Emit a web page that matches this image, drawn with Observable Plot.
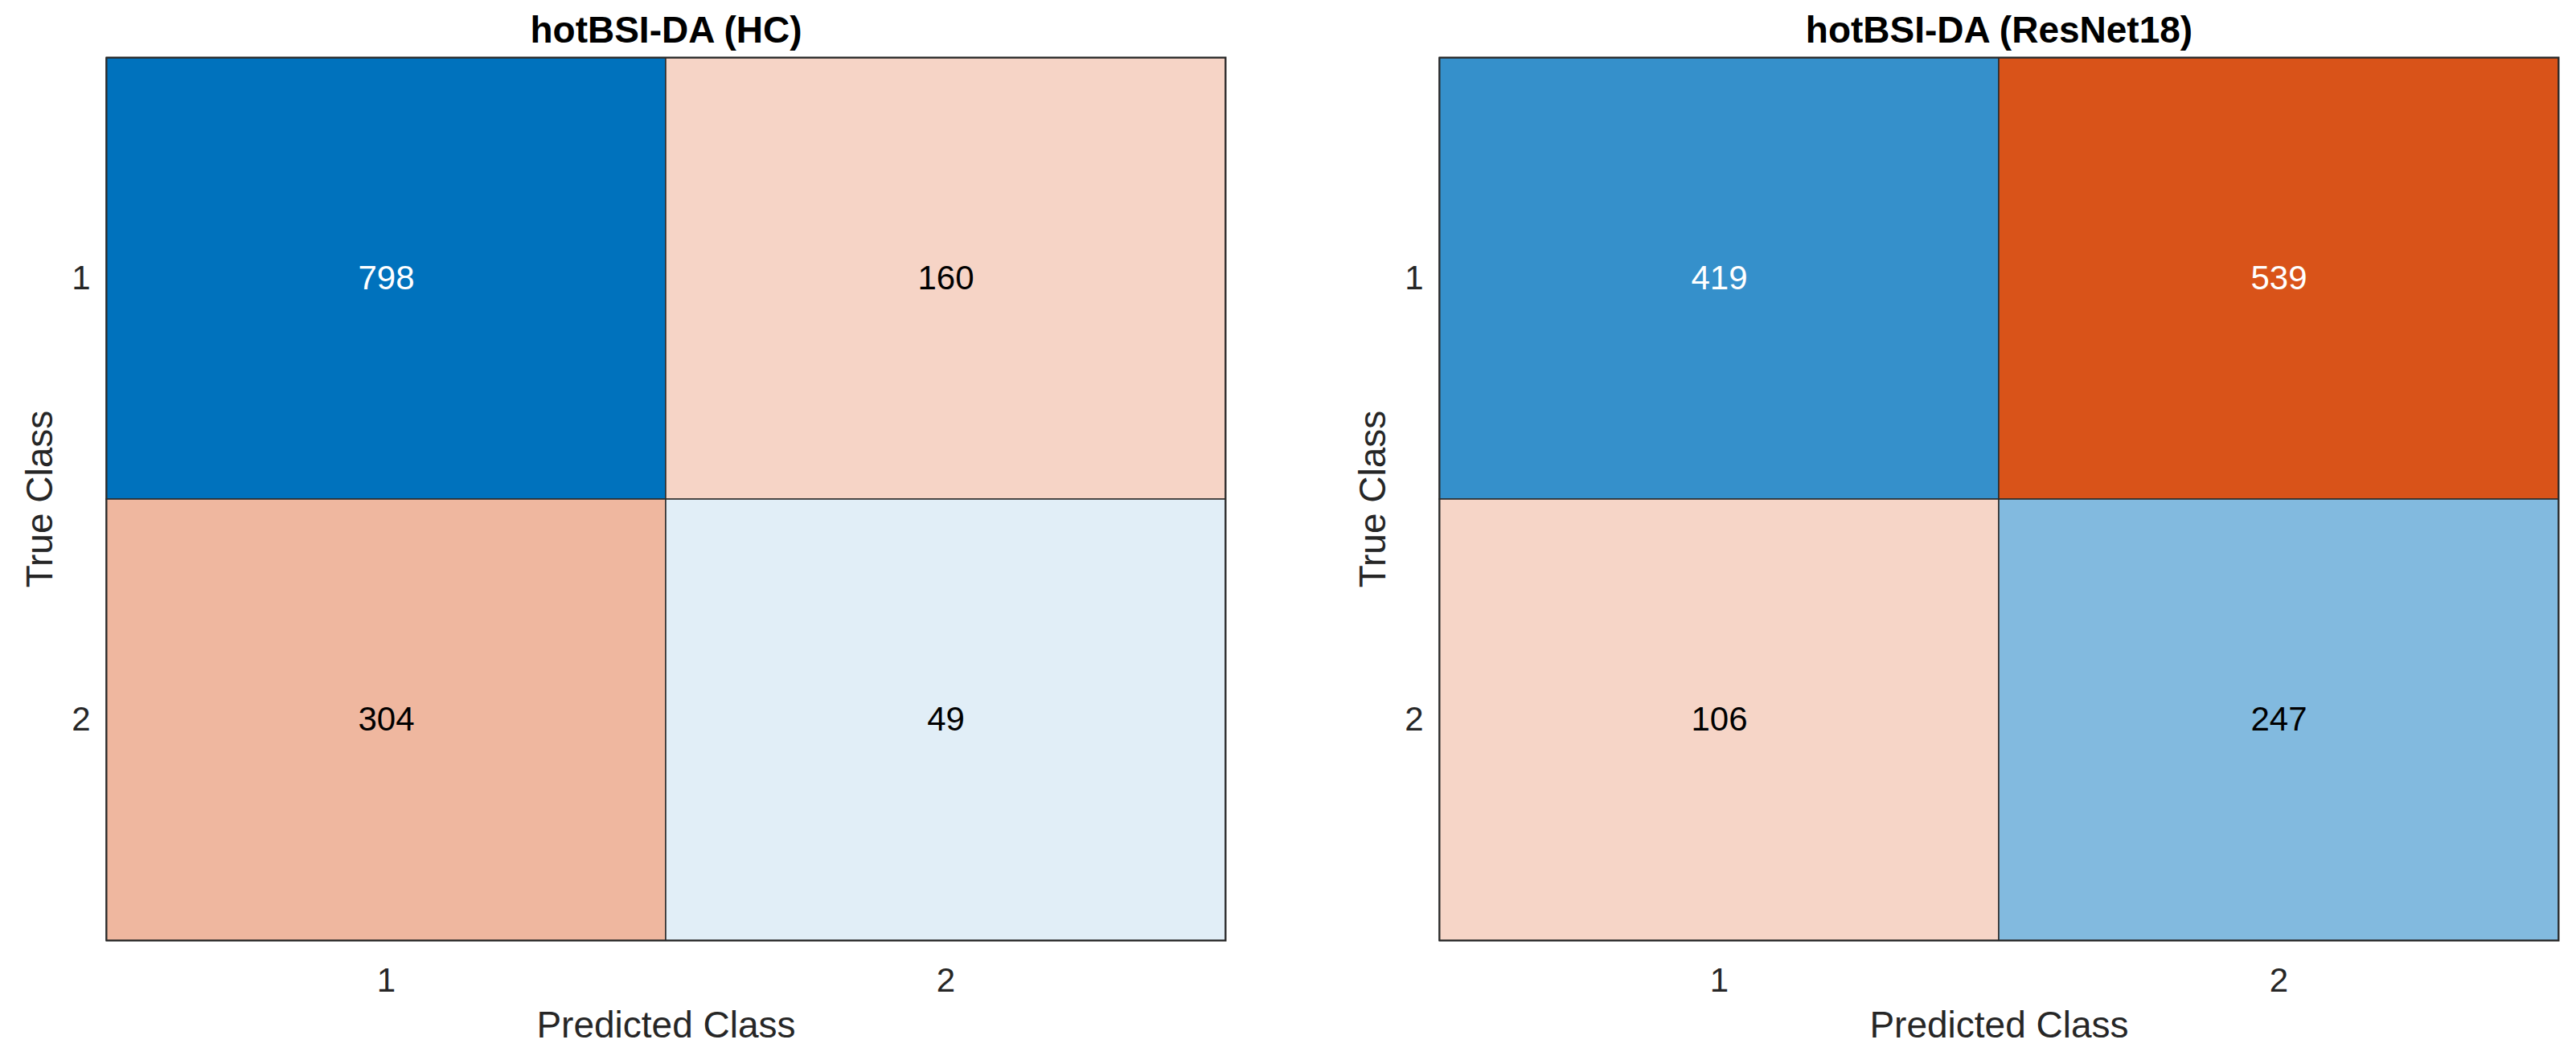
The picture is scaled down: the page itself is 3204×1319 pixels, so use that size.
<!DOCTYPE html>
<html>
<head>
<meta charset="utf-8">
<script src="https://cdn.jsdelivr.net/npm/d3@7"></script>
<script src="https://cdn.jsdelivr.net/npm/@observablehq/plot@0.6"></script>
<style>
  html, body { margin: 0; padding: 0; background: #fff; }
  #wrap { position: relative; width: 3204px; height: 1319px; overflow: hidden; }
  #wrap svg { position: absolute; top: 0; }
</style>
</head>
<body>
<div id="wrap"></div>
<script>
// ---- data ----
const classes = ["1", "2"];
const panelTitles = ["hotBSI-DA (HC)", "hotBSI-DA (ResNet18)"];
const hcCounts = [[798, 160], [304, 49]];        // rows: true class, cols: predicted class
const resnetCounts = [[419, 539], [106, 247]];
const xLabel = "Predicted Class";
const yLabel = "True Class";
const diagColor = "#0072BD";
const offColor = "#D95319";

const FONT = "'Liberation Sans', Arial, Helvetica, sans-serif";

function toRows(counts) {
  const rows = [];
  counts.forEach((row, i) => row.forEach((v, j) => rows.push({
    trueClass: classes[i], predClass: classes[j], value: v, diag: i === j
  })));
  return rows;
}

function panel(counts, title, opts) {
  const rows = toRows(counts);
  const vmax = d3.max(rows, d => d.value);
  const level = d => 0.06 + 0.94 * d.value / vmax;
  const fillOf = d => d3.interpolateRgb("#ffffff", d.diag ? diagColor : offColor)(level(d));
  const textOf = d => level(d) > 0.6 ? "#ffffff" : "#000000";
  return Plot.plot({
    width: 1602,
    height: 1319,
    marginTop: 71,
    marginBottom: 149,
    marginLeft: opts.marginLeft,
    marginRight: opts.marginRight,
    style: {fontFamily: FONT, fontSize: "42px", color: "#262626", background: "transparent"},
    x: {domain: classes, padding: 0, label: null, tickSize: 0, tickPadding: 34},
    y: {domain: classes, padding: 0, label: null, tickSize: 0, tickPadding: 20},
    marks: [
      Plot.cell(rows, {x: "predClass", y: "trueClass", fill: fillOf, stroke: "#2b2b2b", strokeWidth: 1.5, inset: 0}),
      Plot.text(rows, {x: "predClass", y: "trueClass", text: d => String(d.value), fill: textOf, fontSize: 42}),
      Plot.frame({stroke: "#2b2b2b", strokeWidth: 2}),
      Plot.text([title], {text: d => d, frameAnchor: "top", lineAnchor: "middle", dy: -33, fontSize: 46, fontWeight: "bold", fill: "#000"}),
      Plot.text([xLabel], {text: d => d, frameAnchor: "bottom", lineAnchor: "middle", dy: 106, fontSize: 46, fill: "#262626"}),
      Plot.text([yLabel], {text: d => d, frameAnchor: "left", textAnchor: "middle", lineAnchor: "middle", dx: -82, rotate: -90, fontSize: 46, fill: "#262626"})
    ]
  });
}

const wrap = document.getElementById("wrap");
const left = panel(hcCounts, panelTitles[0], {marginLeft: 132, marginRight: 78});
left.style.left = "0px";
const right = panel(resnetCounts, panelTitles[1], {marginLeft: 188, marginRight: 22});
right.style.left = "1602px";
wrap.appendChild(left);
wrap.appendChild(right);
</script>
</body>
</html>
